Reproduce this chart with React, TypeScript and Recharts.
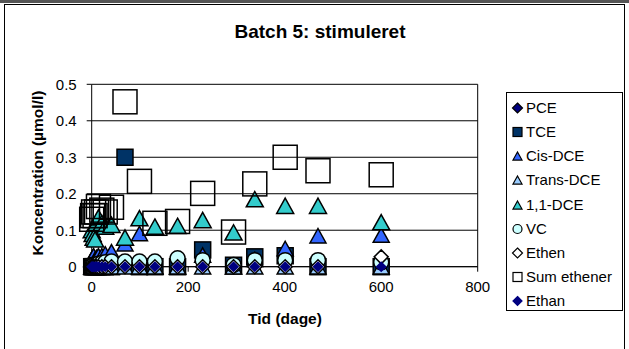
import React from 'react';
import {
    CartesianGrid,
    ReferenceLine,
    Scatter,
    ScatterChart,
    XAxis,
    YAxis
} from 'recharts';

// days since start
const days = [0, 2, 4, 7, 10, 14, 21, 28, 41, 69, 99, 131, 178, 230, 294, 338, 401, 469, 600];

const pce = [0, 0, 0, 0, 0, 0, 0, 0, 0, 0, 0, 0, 0, 0, 0, 0, 0, 0, 0];
const tce = [0, 0, 0, 0, 0, 0, 0, 0, 0, 0.3, 0, 0, 0, 0.046, 0.004, 0.027, 0.03, 0, 0];
const cisDce = [0.02, 0.025, 0.03, 0.02, 0.025, 0.03, 0.03, 0.035, 0.041, 0.063, 0.091, 0, 0, 0.032, 0, 0.02, 0.05, 0.085, 0.087];
const transDce = [0, 0, 0, 0, 0, 0, 0, 0, 0, 0, 0, 0, 0, 0, 0, 0, 0, 0, 0];
const dce11 = [0.1, 0.09, 0.08, 0.075, 0.12, 0.135, 0.12, 0.11, 0.115, 0.08, 0.133, 0.11, 0.112, 0.128, 0.094, 0.185, 0.167, 0.167, 0.122];
const vc = [0.005, 0.005, 0.005, 0.005, 0.005, 0.008, 0.01, 0.012, 0.014, 0.014, 0.014, 0.014, 0.023, 0.018, 0.005, 0.018, 0.018, 0.018, 0.012];
const ethen = [0, 0, 0, 0, 0, 0, 0, 0, 0, 0, 0, 0, 0, 0, 0, 0, 0, 0, 0.027];
const sumEthener = [0.13, 0.14, 0.15, 0.14, 0.15, 0.165, 0.155, 0.15, 0.163, 0.452, 0.234, 0.119, 0.124, 0.201, 0.095, 0.227, 0.3, 0.263, 0.252];
const ethan = [0, 0, 0, 0, 0, 0, 0, 0, 0, 0, 0, 0, 0, 0, 0, 0, 0, 0, 0];

const xTicks = [0, 200, 400, 600, 800];
const yTicks = [0, 0.1, 0.2, 0.3, 0.4, 0.5];

type Kind = 'diamond' | 'square' | 'triangle' | 'circle';

interface SeriesDef {
    name: string;
    values: number[];
    kind: Kind;
    size: number;
    fill: string;
    stroke: string;
    legendFill?: string;
}

const SERIES: SeriesDef[] = [
    { name: 'PCE', values: pce, kind: 'diamond', size: 11, fill: '#000080', stroke: '#000' },
    { name: 'TCE', values: tce, kind: 'square', size: 16, fill: '#003366', stroke: '#000' },
    { name: 'Cis-DCE', values: cisDce, kind: 'triangle', size: 16, fill: '#3366FF', stroke: '#000' },
    { name: 'Trans-DCE', values: transDce, kind: 'triangle', size: 16, fill: '#99CCFF', stroke: '#000' },
    { name: '1,1-DCE', values: dce11, kind: 'triangle', size: 17, fill: '#33CCCC', stroke: '#000' },
    { name: 'VC', values: vc, kind: 'circle', size: 15, fill: '#CCFFFF', stroke: '#000' },
    { name: 'Ethen', values: ethen, kind: 'diamond', size: 14, fill: '#fff', stroke: '#000' },
    { name: 'Sum ethener', values: sumEthener, kind: 'square', size: 24, fill: 'none', stroke: '#000', legendFill: '#fff' },
    { name: 'Ethan', values: ethan, kind: 'diamond', size: 9, fill: '#000080', stroke: '#000080' }
];

const FONT = '"Liberation Sans", Arial, sans-serif';

const Marker = ({ kind, cx, cy, size, fill, stroke, sw = 1.5 }: {
    kind: Kind; cx: number; cy: number; size: number; fill: string; stroke: string; sw?: number;
}) => {
    const h = size / 2;
    if (kind === 'diamond') {
        return <polygon points={`${cx},${cy - h} ${cx + h},${cy} ${cx},${cy + h} ${cx - h},${cy}`} fill={fill} stroke={stroke} strokeWidth={sw} />;
    }
    if (kind === 'square') {
        return <rect x={cx - h} y={cy - h} width={size} height={size} fill={fill} stroke={stroke} strokeWidth={sw} />;
    }
    if (kind === 'triangle') {
        const th = size * 0.9;
        return <polygon points={`${cx},${cy - th / 2} ${cx + h},${cy + th / 2} ${cx - h},${cy + th / 2}`} fill={fill} stroke={stroke} strokeWidth={sw} strokeLinejoin="miter" />;
    }
    return <circle cx={cx} cy={cy} r={h} fill={fill} stroke={stroke} strokeWidth={sw} />;
};

const App = () => {
    return (
        <div style={{ position: 'absolute', left: 0, top: 0, width: 629, height: 349, background: '#fff', fontFamily: FONT, overflow: 'hidden' }}>
            <div style={{ position: 'absolute', left: 0, top: 0, width: 629, height: 3, background: '#555' }} />
            <div style={{ position: 'absolute', left: 4, top: 4, width: 621, height: 360, border: '1px solid #000', boxSizing: 'border-box' }} />
            <div style={{ position: 'absolute', left: 0, width: 640, top: 21, textAlign: 'center', fontSize: 19, fontWeight: 'bold', lineHeight: '22px' }}>
                Batch 5: stimuleret
            </div>
            <div style={{ position: 'absolute', left: 0, top: 0 }}>
                <ScatterChart width={629} height={349} margin={{ top: 84.3, right: 151.3, bottom: 52.3, left: 31.7 }}>
                    <CartesianGrid vertical={false} stroke="#000" horizontalValues={yTicks} />
                    <ReferenceLine x={800} stroke="#000" />
                    <XAxis
                        type="number"
                        dataKey="x"
                        domain={[0, 800]}
                        ticks={xTicks}
                        height={30}
                        stroke="#000"
                        tickSize={5}
                        tickMargin={10}
                        tick={{ fill: '#000', fontSize: 15, fontFamily: FONT }}
                    />
                    <YAxis
                        type="number"
                        dataKey="y"
                        domain={[0, 0.5]}
                        ticks={yTicks}
                        width={60}
                        stroke="#000"
                        tickSize={5}
                        tickMargin={10}
                        tickFormatter={(v: number) => (v === 0 ? '0' : String(Math.round(v * 10) / 10))}
                        tick={{ fill: '#000', fontSize: 15, fontFamily: FONT }}
                    />
                    {SERIES.map((s) => (
                        <Scatter
                            key={s.name}
                            name={s.name}
                            data={days.map((d, i) => ({ x: d, y: s.values[i] }))}
                            isAnimationActive={false}
                            shape={(p: any) => (
                                <Marker kind={s.kind} cx={p.cx} cy={p.cy} size={s.size} fill={s.fill} stroke={s.stroke} />
                            )}
                        />
                    ))}
                </ScatterChart>
            </div>
            <div style={{ position: 'absolute', left: 38, top: 173, width: 0, height: 0 }}>
                <div style={{ position: 'absolute', left: -120, top: -10, width: 240, textAlign: 'center', transform: 'rotate(-90deg)', fontSize: 15.5, fontWeight: 'bold', lineHeight: '20px', whiteSpace: 'nowrap' }}>
                    Koncentration (µmol/l)
                </div>
            </div>
            <div style={{ position: 'absolute', left: 185, width: 200, top: 309, textAlign: 'center', fontSize: 15.5, fontWeight: 'bold', lineHeight: '20px' }}>
                Tid (dage)
            </div>
            <div style={{ position: 'absolute', left: 506, top: 92, width: 117, height: 219, border: '1px solid #000', boxSizing: 'border-box', background: '#fff' }}>
                {SERIES.map((s, i) => (
                    <div key={s.name} style={{ position: 'absolute', left: 0, top: 14.7 + i * 24.2 - 10, height: 20, display: 'flex', alignItems: 'center', whiteSpace: 'nowrap' }}>
                        <svg width={18} height={20} style={{ marginLeft: 1 }}>
                            <Marker
                                kind={s.kind}
                                cx={9.5}
                                cy={10}
                                size={s.kind === 'diamond' && s.name !== 'Ethan' ? 10 : s.name === 'Ethan' ? 9 : 9}
                                fill={s.legendFill ?? s.fill}
                                stroke={s.stroke}
                                sw={1.2}
                            />
                        </svg>
                        <span style={{ fontSize: 15, lineHeight: '20px' }}>{s.name}</span>
                    </div>
                ))}
            </div>
        </div>
    );
};

export default App;
